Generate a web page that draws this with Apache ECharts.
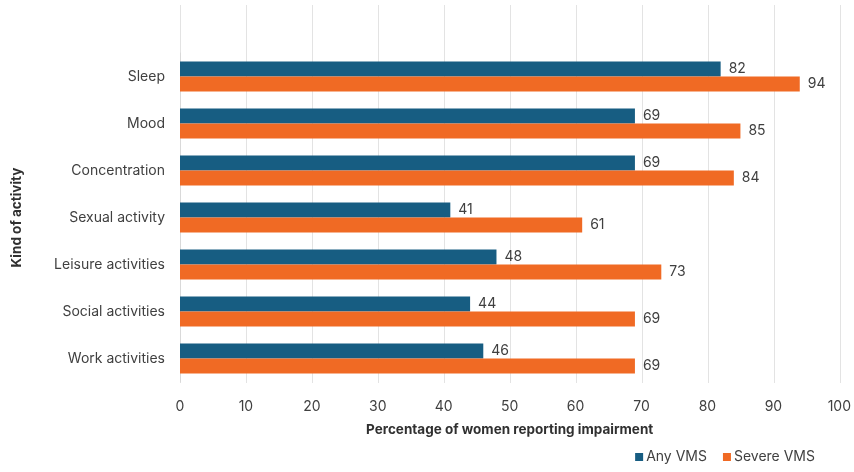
<!DOCTYPE html>
<html>
<head>
<meta charset="utf-8">
<script src="https://cdn.jsdelivr.net/npm/echarts@6/dist/echarts.min.js"></script>
<style>
  html, body { margin: 0; padding: 0; background: #fff; }
  #chart { width: 854px; height: 472px; }
</style>
</head>
<body>
<div id="chart"></div>
<script>
// Activities, listed top to bottom
const activities = ['Sleep', 'Mood', 'Concentration', 'Sexual activity', 'Leisure activities', 'Social activities', 'Work activities'];
// Percentage of women reporting impairment
const anyVMS = [82, 69, 69, 41, 48, 44, 46];
const severeVMS = [94, 85, 84, 61, 73, 69, 69];
const xTicks = [0, 100, 10];

const FONT = 'Inter, "Open Sans", sans-serif';
const TEXT = '#404040';
const BLUE = '#175d82';
const ORANGE = '#f06a24';

const chart = echarts.init(document.getElementById('chart'), null, { renderer: 'canvas' });

// category axis is reversed so the first activity sits on top
const cats = activities.slice().reverse();
const anyRev = anyVMS.slice().reverse();
const sevRev = severeVMS.slice().reverse();

chart.setOption({
  backgroundColor: '#fff',
  textStyle: { fontFamily: FONT },
  legend: {
    data: ['Any VMS', 'Severe VMS'],
    right: 34,
    bottom: 3,
    itemWidth: 8,
    itemHeight: 8,
    itemGap: 16,
    icon: 'rect',
    textStyle: { fontFamily: FONT, fontSize: 14, color: TEXT, padding: [0, 0, 0, -2] }
  },
  grid: [
    { left: 180, right: 14, top: 53, bottom: 90, containLabel: false },
    { left: 180, right: 14, top: 5, bottom: 89, containLabel: false }
  ],
  xAxis: [
    {
      gridIndex: 0,
      type: 'value',
      min: xTicks[0], max: xTicks[1], interval: xTicks[2],
      axisLine: { show: false },
      axisTick: { show: false },
      splitLine: { show: false },
      axisLabel: { color: TEXT, fontSize: 14, fontFamily: FONT, margin: 18 },
      name: 'Percentage of women reporting impairment',
      nameLocation: 'middle',
      nameGap: 41,
      nameTextStyle: { color: '#303030', fontSize: 13.5, fontWeight: 'bold', fontFamily: FONT }
    },
    {
      gridIndex: 1,
      type: 'value',
      min: xTicks[0], max: xTicks[1], interval: xTicks[2],
      axisLine: { show: false },
      axisTick: { show: false },
      axisLabel: { show: false },
      splitLine: { show: true, lineStyle: { color: '#e3e3e3', width: 1 } }
    }
  ],
  yAxis: [
    {
      gridIndex: 0,
      type: 'category',
      data: cats,
      axisLine: { show: true, lineStyle: { color: '#d9d9d9' } },
      axisTick: { show: false },
      axisLabel: { color: TEXT, fontSize: 14, fontFamily: FONT, margin: 15 },
      name: 'Kind of activity',
      nameLocation: 'middle',
      nameGap: 156,
      nameRotate: 90,
      nameTextStyle: { color: '#303030', fontSize: 13.5, fontWeight: 'bold', fontFamily: FONT }
    },
    {
      gridIndex: 1,
      type: 'value',
      show: false
    }
  ],
  series: [
    {
      name: 'Any VMS',
      type: 'bar',
      xAxisIndex: 0, yAxisIndex: 0,
      data: anyRev,
      barWidth: 15,
      barGap: '0%',
      itemStyle: { color: BLUE },
      z: 3,
      label: { show: true, position: 'right', distance: 8, color: TEXT, fontSize: 14, fontFamily: FONT }
    },
    {
      name: 'Severe VMS',
      type: 'bar',
      xAxisIndex: 0, yAxisIndex: 0,
      data: sevRev,
      barWidth: 15,
      barGap: '0%',
      itemStyle: { color: ORANGE },
      z: 3,
      label: { show: true, position: 'right', distance: 8, color: TEXT, fontSize: 14, fontFamily: FONT }
    }
  ]
});
</script>
</body>
</html>
